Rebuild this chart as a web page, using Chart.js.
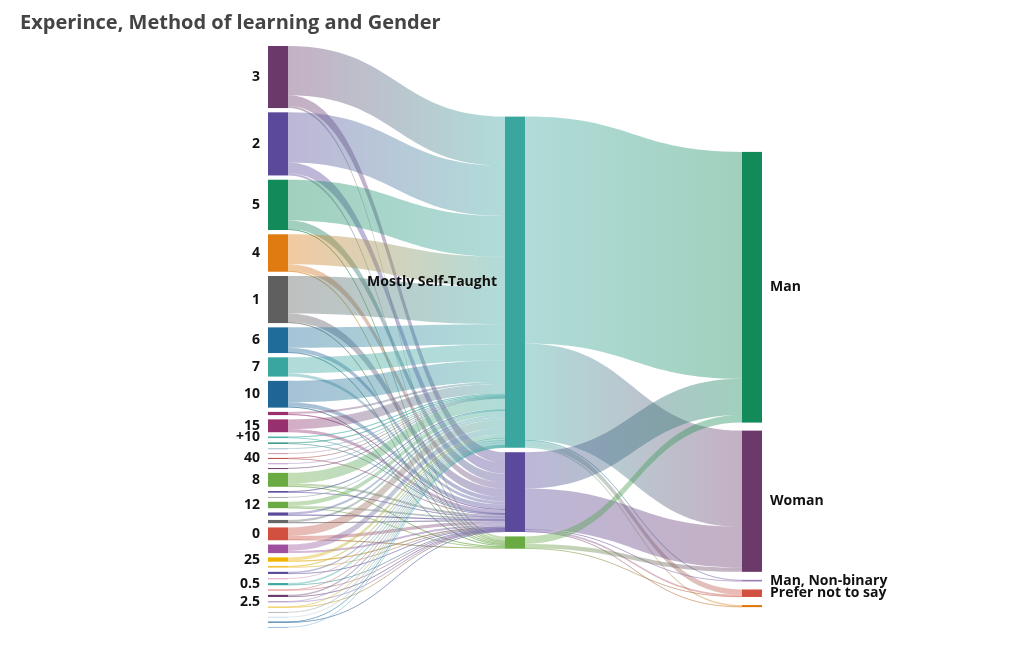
<!DOCTYPE html>
<html><head><meta charset="utf-8">
<script src="https://cdn.jsdelivr.net/npm/chart.js@4"></script>
<style>html,body{margin:0;background:#fff}#w{width:1024px;height:652px}</style>
</head><body><div id="w"><canvas id="c"></canvas></div>
<script>
const chartTitle = "Experince, Method of learning and Gender";
const leftLabels = ["3","2","5","4","1","6","7","10","","15","+10","","","","40","","","8","","","12","","","0","","25","","","","0.5","","","2.5","","","","",""];
const leftColors = ["#6b3a6b","#5b4a9b","#138a5a","#e07b12","#5f5f5f","#1f6b9a","#3aa6a0","#1f6596","#9b2f6e","#96306e","#4fb3a9","#3a9a8a","#9bc","#c9a","#c0504d","#b9c","#6b3a6b","#6aaa42","#5b4a9b","#aaa","#6aaa42","#5b4a9b","#666","#d1503f","#9e4f9e","#f0b400","#f0c030","#5b4a9b","#e0a0c0","#3aa6a0","#e07b7b","#6b3a6b","#a88fc6","#f0c030","#bbb","#cde","#1f6596","#9bd"];
// flows from each left node to [Mostly Self-Taught, purple node, green node]
const toMST    = [46,47,38,28,35,19,15,20,2,9,1,1,0.5,0.5,0.5,0.5,0.5,10,1,0.5,4,2,2,8,6,3,1,1.5,0.5,1.5,0.5,1.5,0.5,0.5,0.5,0.5,0.5,0.5];
const toPurple = [10,10,8,6,8,4,3,4,1,3,0.5,0.5,0,0,0.5,0,0,2,0.5,0,1.5,1,1,3,2,1,0.5,0.5,0,0.5,0.5,0.5,0.5,0.5,0,0,0.5,0];
const toGreen  = [2,2,1,1,1,1,0,1,0,0,0,0,0,0,0,0,0,1,0,0,0.5,0,0,1,0,0,0,0,0,0,0,0,0,0,0,0,0,0];
const midLabels = ["Mostly Self-Taught","",""];
const midColors = ["#3aa6a0","#5b4a9b","#6aaa42"];
const rightLabels = ["Man","Woman","Man, Non-binary","Prefer not to say",""];
const rightColors = ["#138a5a","#6b3a6b","#9b7bb5","#d1503f","#e07b12"];
// flows from each middle node to right nodes
const midToRight = [
  [212,90,1,5,1.5],
  [34,38,0.5,1.5,0.5],
  [7,4,0,0.5,0]
];
const colGap = [4,4.2,7.5], colTop = [0,66,99], nodeW = 20;

function hexA(h,a){h=h.replace('#','');if(h.length===3)h=h.split('').map(c=>c+c).join('');
  const n=parseInt(h,16);return `rgba(${n>>16&255},${n>>8&255},${n&255},${a})`;}

const sankey = {
  id:'sankey',
  beforeDatasetsDraw(chart){
    const ctx=chart.ctx, xs=chart.scales.x, ys=chart.scales.y;
    const midFlows=[toMST,toPurple,toGreen];
    const cols=[[],[],[]];
    leftLabels.forEach((l,i)=>cols[0].push({label:l,color:leftColors[i],v:toMST[i]+toPurple[i]+toGreen[i]}));
    midLabels.forEach((l,j)=>cols[1].push({label:l,color:midColors[j],v:midFlows[j].reduce((a,b)=>a+b,0)}));
    rightLabels.forEach((l,k)=>cols[2].push({label:l,color:rightColors[k],v:midToRight.reduce((a,r)=>a+r[k],0)}));
    cols.forEach((c,ci)=>{let y=colTop[ci];c.forEach(n=>{n.y0=y;n.y1=y+n.v;n.out=y;n.inn=y;y+=n.v+colGap[ci];});});
    const links=[];
    cols[0].forEach((n,i)=>midFlows.forEach((f,j)=>{if(f[i]>0)links.push({s:n,t:cols[1][j],v:f[i],sc:0});}));
    cols[1].forEach((n,j)=>midToRight[j].forEach((v,k)=>{if(v>0)links.push({s:n,t:cols[2][k],v,sc:1});}));
    links.forEach(L=>{L.sy=L.s.out;L.s.out+=L.v;});
    [0,1].forEach(sc=>{cols[sc+1].forEach(t=>{links.filter(L=>L.t===t).forEach(L=>{L.ty=t.inn;t.inn+=L.v;});});});
    ctx.save();
    links.forEach(L=>{
      const x0=xs.getPixelForValue(L.sc)+nodeW, x1=xs.getPixelForValue(L.sc+1), xm=(x0+x1)/2;
      const a0=ys.getPixelForValue(L.sy), a1=ys.getPixelForValue(L.sy+L.v);
      const b0=ys.getPixelForValue(L.ty), b1=ys.getPixelForValue(L.ty+L.v);
      const g=ctx.createLinearGradient(x0,0,x1,0);
      g.addColorStop(0,hexA(L.s.color,0.4));g.addColorStop(1,hexA(L.t.color,0.4));
      ctx.fillStyle=g;ctx.beginPath();
      ctx.moveTo(x0,a0);ctx.bezierCurveTo(xm,a0,xm,b0,x1,b0);
      ctx.lineTo(x1,b1);ctx.bezierCurveTo(xm,b1,xm,a1,x0,a1);ctx.closePath();ctx.fill();
      if(Math.abs(a1-a0)<1.2){ctx.strokeStyle=g;ctx.lineWidth=1;ctx.beginPath();ctx.moveTo(x0,(a0+a1)/2);ctx.bezierCurveTo(xm,(a0+a1)/2,xm,(b0+b1)/2,x1,(b0+b1)/2);ctx.stroke();}
    });
    ctx.font="bold 14px 'Open Sans', sans-serif";ctx.textBaseline='middle';
    cols.forEach((c,ci)=>c.forEach(n=>{
      const x=xs.getPixelForValue(ci), t=ys.getPixelForValue(n.y0), b=ys.getPixelForValue(n.y1);
      ctx.fillStyle=n.color;ctx.fillRect(x,t,nodeW,Math.max(b-t,1));
      if(n.label){ctx.fillStyle='#111';
        if(ci===2){ctx.textAlign='left';ctx.fillText(n.label,x+nodeW+8,(t+b)/2);}
        else{ctx.textAlign='right';ctx.fillText(n.label,x-8,(t+b)/2);}}
    }));
    ctx.font="bold 20px 'Open Sans', sans-serif";ctx.fillStyle='#444';ctx.textAlign='left';
    ctx.fillText(chartTitle,20,23);
    ctx.restore();
  }
};
new Chart(document.getElementById('c'),{
  type:'scatter',data:{datasets:[{data:[]}]},
  options:{responsive:true,maintainAspectRatio:false,animation:false,
    layout:{padding:{left:268,right:282,top:46,bottom:24}},
    plugins:{legend:{display:false},tooltip:{enabled:false}},
    scales:{x:{display:false,min:0,max:2},y:{display:false,min:0,max:544,reverse:true}}},
  plugins:[sankey]
});
</script></body></html>
